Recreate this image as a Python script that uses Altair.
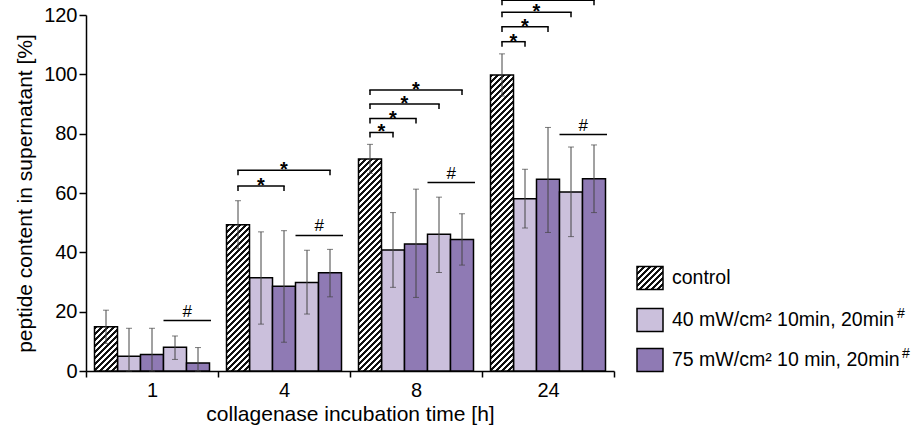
import altair as alt
import pandas as pd

# ---------------- data ----------------
times = ["1", "4", "8", "24"]
series = ["control", "40 mW/cm² 10min", "75 mW/cm² 10min", "40 mW/cm² 20min", "75 mW/cm² 20min"]
power = ["control", "40 mW/cm²", "75 mW/cm²", "40 mW/cm²", "75 mW/cm²"]

mean_1h = [14.9, 5.0, 5.6, 8.0, 2.7]
hi_1h = [20.5, 14.4, 14.4, 11.8, 7.9]
lo_1h = [9.3, 0.0, 0.0, 3.9, 0.0]

mean_4h = [49.3, 31.4, 28.6, 29.8, 33.1]
hi_4h = [57.4, 46.9, 47.3, 40.7, 41.0]
lo_4h = [41.2, 15.8, 9.7, 19.2, 25.0]

mean_8h = [71.5, 40.8, 42.8, 46.1, 44.3]
hi_8h = [76.4, 53.4, 61.3, 58.6, 53.0]
lo_8h = [66.6, 28.2, 24.8, 33.2, 35.7]

mean_24h = [99.8, 58.1, 64.6, 60.3, 64.8]
hi_24h = [106.9, 68.0, 82.1, 75.5, 76.2]
lo_24h = [92.7, 48.2, 46.7, 45.3, 53.4]

means = [mean_1h, mean_4h, mean_8h, mean_24h]
his = [hi_1h, hi_4h, hi_8h, hi_24h]
los = [lo_1h, lo_4h, lo_8h, lo_24h]

# significance brackets: control vs. target bar
star_time = ["4", "4", "8", "8", "8", "8", "24", "24", "24", "24"]
star_target = [2, 4, 1, 2, 3, 4, 1, 2, 3, 4]
star_level = [62.4, 67.7, 80.4, 85.1, 90.0, 94.7, 111.0, 116.0, 120.9, 125.0]

# "#" lines over the 20 min bars
hash_time = ["1", "4", "8", "24"]
hash_level = [17.0, 45.7, 63.5, 79.7]

legend_labels = ["control", "40 mW/cm² 10min, 20min", "75 mW/cm² 10 min, 20min"]

# ---------------- layout / style ----------------
W, H = 528, 356
Y_MAX = 120
BAND_PX = W / len(times)
PAD = 8.5 / BAND_PX
BW = 23 / BAND_PX
TIP = 1.7
LIGHT = "#cbc0dc"
PURPLE = "#8f7ab4"
FONT = "Liberation Sans"


def hatch(w, h, period=6.0, frac=0.5):
    L = w + h
    stops = []
    k = 0
    while k * period / L < 1:
        a = k * period / L
        b = min((k + frac) * period / L, 1.0)
        stops += [
            alt.GradientStop(color="white", offset=a),
            alt.GradientStop(color="#111111", offset=a),
            alt.GradientStop(color="#111111", offset=b),
            alt.GradientStop(color="white", offset=b),
        ]
        k += 1
    d = w * w + h * h
    return alt.LinearGradient(gradient="linear", stops=stops,
                              x1=0, y1=0, x2=w * L / d, y2=h * L / d)


rows = []
for gi, t in enumerate(times):
    for j, s in enumerate(series):
        x0 = gi + PAD + j * BW
        rows.append(dict(time=t, series=s, power=power[j], j=j,
                         x0=x0, x1=x0 + BW, xc=x0 + BW / 2,
                         mean=means[gi][j], hi=his[gi][j], lo=los[gi][j], base=0.0))
df = pd.DataFrame(rows)
bars_df = df[df.j > 0]
ctrl_df = df[df.j == 0].reset_index(drop=True)

srows = []
for t, tg, lv in zip(star_time, star_target, star_level):
    gi = times.index(t)
    xs = gi + PAD + BW / 2
    xe = gi + PAD + tg * BW + BW / 2
    srows.append(dict(xs=xs, xe=xe, xm=(xs + xe) / 2, y=lv, yt=lv - TIP, txt="*"))
star_df = pd.DataFrame(srows)

hrows = []
for t, lv in zip(hash_time, hash_level):
    gi = times.index(t)
    xs = gi + PAD + 3 * BW
    xe = gi + PAD + 5 * BW + 1.5 / BAND_PX
    hrows.append(dict(xs=xs, xe=xe, xm=(xs + xe) / 2, y=lv, txt="#"))
hash_df = pd.DataFrame(hrows)

# ---------------- chart ----------------
x_scale = alt.Scale(domain=[0, len(times)], nice=False, zero=False)
y_scale = alt.Scale(domain=[0, Y_MAX], nice=False, zero=True)
label_expr = "[" + ",".join("'%s'" % t for t in times) + ",''][datum.value]"

x_axis = alt.Axis(values=list(range(len(times) + 1)), labelExpr=label_expr,
                  labelOffset=BAND_PX / 2, title="collagenase incubation time [h]",
                  grid=False, tickSize=6, labelPadding=3, labelFlush=False,
                  labelOverlap=False, titlePadding=3)
y_axis = alt.Axis(values=list(range(0, Y_MAX + 1, 20)),
                  title="peptide content in supernatant [%]",
                  grid=False, tickSize=7, labelPadding=2, titlePadding=8)

bars = alt.Chart(bars_df).mark_rect(stroke="black", strokeWidth=1.5).encode(
    x=alt.X("x0:Q", scale=x_scale, axis=x_axis),
    x2="x1:Q",
    y=alt.Y("mean:Q", scale=y_scale, axis=y_axis),
    y2="base:Q",
    fill=alt.Fill("power:N",
                  scale=alt.Scale(domain=["40 mW/cm²", "75 mW/cm²"], range=[LIGHT, PURPLE]),
                  legend=None),
)

ctrl_layers = []
for i in range(len(ctrl_df)):
    h_px = ctrl_df.loc[i, "mean"] * H / Y_MAX
    ctrl_layers.append(
        alt.Chart(ctrl_df.iloc[[i]]).mark_rect(
            fill=hatch(BW * BAND_PX, h_px), stroke="black", strokeWidth=1.5
        ).encode(x="x0:Q", x2="x1:Q", y="mean:Q", y2="base:Q")
    )

err = alt.Chart(df).mark_rule(color="#444444", strokeWidth=1).encode(
    x="xc:Q", y="lo:Q", y2="hi:Q")
cap_hi = alt.Chart(df).mark_tick(orient="horizontal", size=6, thickness=1, color="#444444").encode(
    x="xc:Q", y="hi:Q")
cap_lo = alt.Chart(df).mark_tick(orient="horizontal", size=6, thickness=1, color="#444444").encode(
    x="xc:Q", y="lo:Q")

br_h = alt.Chart(star_df).mark_rule(color="black", strokeWidth=1.5, strokeCap="square").encode(
    x="xs:Q", x2="xe:Q", y="y:Q")
br_l = alt.Chart(star_df).mark_rule(color="black", strokeWidth=1.5).encode(
    x="xs:Q", y="y:Q", y2="yt:Q")
br_r = alt.Chart(star_df).mark_rule(color="black", strokeWidth=1.5).encode(
    x="xe:Q", y="y:Q", y2="yt:Q")
stars = alt.Chart(star_df).mark_text(font=FONT, fontSize=20, fontWeight="bold", baseline="middle",
                                     color="black").encode(
    x="xm:Q", y="y:Q", text="txt:N")

hash_rule = alt.Chart(hash_df).mark_rule(color="black", strokeWidth=1.5).encode(
    x="xs:Q", x2="xe:Q", y="y:Q")
hash_text = alt.Chart(hash_df).mark_text(font=FONT, fontSize=17, baseline="alphabetic", dy=-4,
                                         color="black").encode(
    x="xm:Q", y="y:Q", text="txt:N")

one = pd.DataFrame({"k": [0]})
LX0, LX1, TX = 551, 577, 586
row_c = [263, 305, 345]
swatch_fill = [hatch(LX1 - LX0, 23), LIGHT, PURPLE]
legend = []
for yc, fillv, lab in zip(row_c, swatch_fill, legend_labels):
    legend.append(alt.Chart(one).mark_rect(fill=fillv, stroke="black", strokeWidth=1.5).encode(
        x=alt.value(LX0), x2=alt.value(LX1), y=alt.value(yc - 11.5), y2=alt.value(yc + 11.5)))
    legend.append(alt.Chart(one).mark_text(font=FONT, fontSize=19.5, align="left", baseline="middle",
                                           color="black").encode(
        x=alt.value(TX), y=alt.value(yc), text=alt.value(lab)))
legend.append(alt.Chart(one).mark_text(font=FONT, fontSize=14, align="left", baseline="middle",
                                       color="black").encode(
    x=alt.value(811), y=alt.value(row_c[1] - 6), text=alt.value("#")))
legend.append(alt.Chart(one).mark_text(font=FONT, fontSize=14, align="left", baseline="middle",
                                       color="black").encode(
    x=alt.value(816), y=alt.value(row_c[2] - 6), text=alt.value("#")))

chart = alt.layer(
    bars, *ctrl_layers, err, cap_hi, cap_lo, br_h, br_l, br_r, stars, hash_rule, hash_text, *legend
).properties(
    width=W, height=H,
    autosize=alt.AutoSizeParams(type="none"),
    padding={"left": 86, "top": 15, "right": 307, "bottom": 59},
    background="white",
).configure_view(strokeWidth=0).configure_axis(
    domainColor="black", domainWidth=1.5, tickColor="black", tickWidth=1.5,
    labelFont=FONT, labelFontSize=20, labelColor="black",
    titleFont=FONT, titleFontSize=21, titleFontWeight="normal", titleColor="black",
)

chart.save("out.html", embed_options={"renderer": "svg", "actions": False})
